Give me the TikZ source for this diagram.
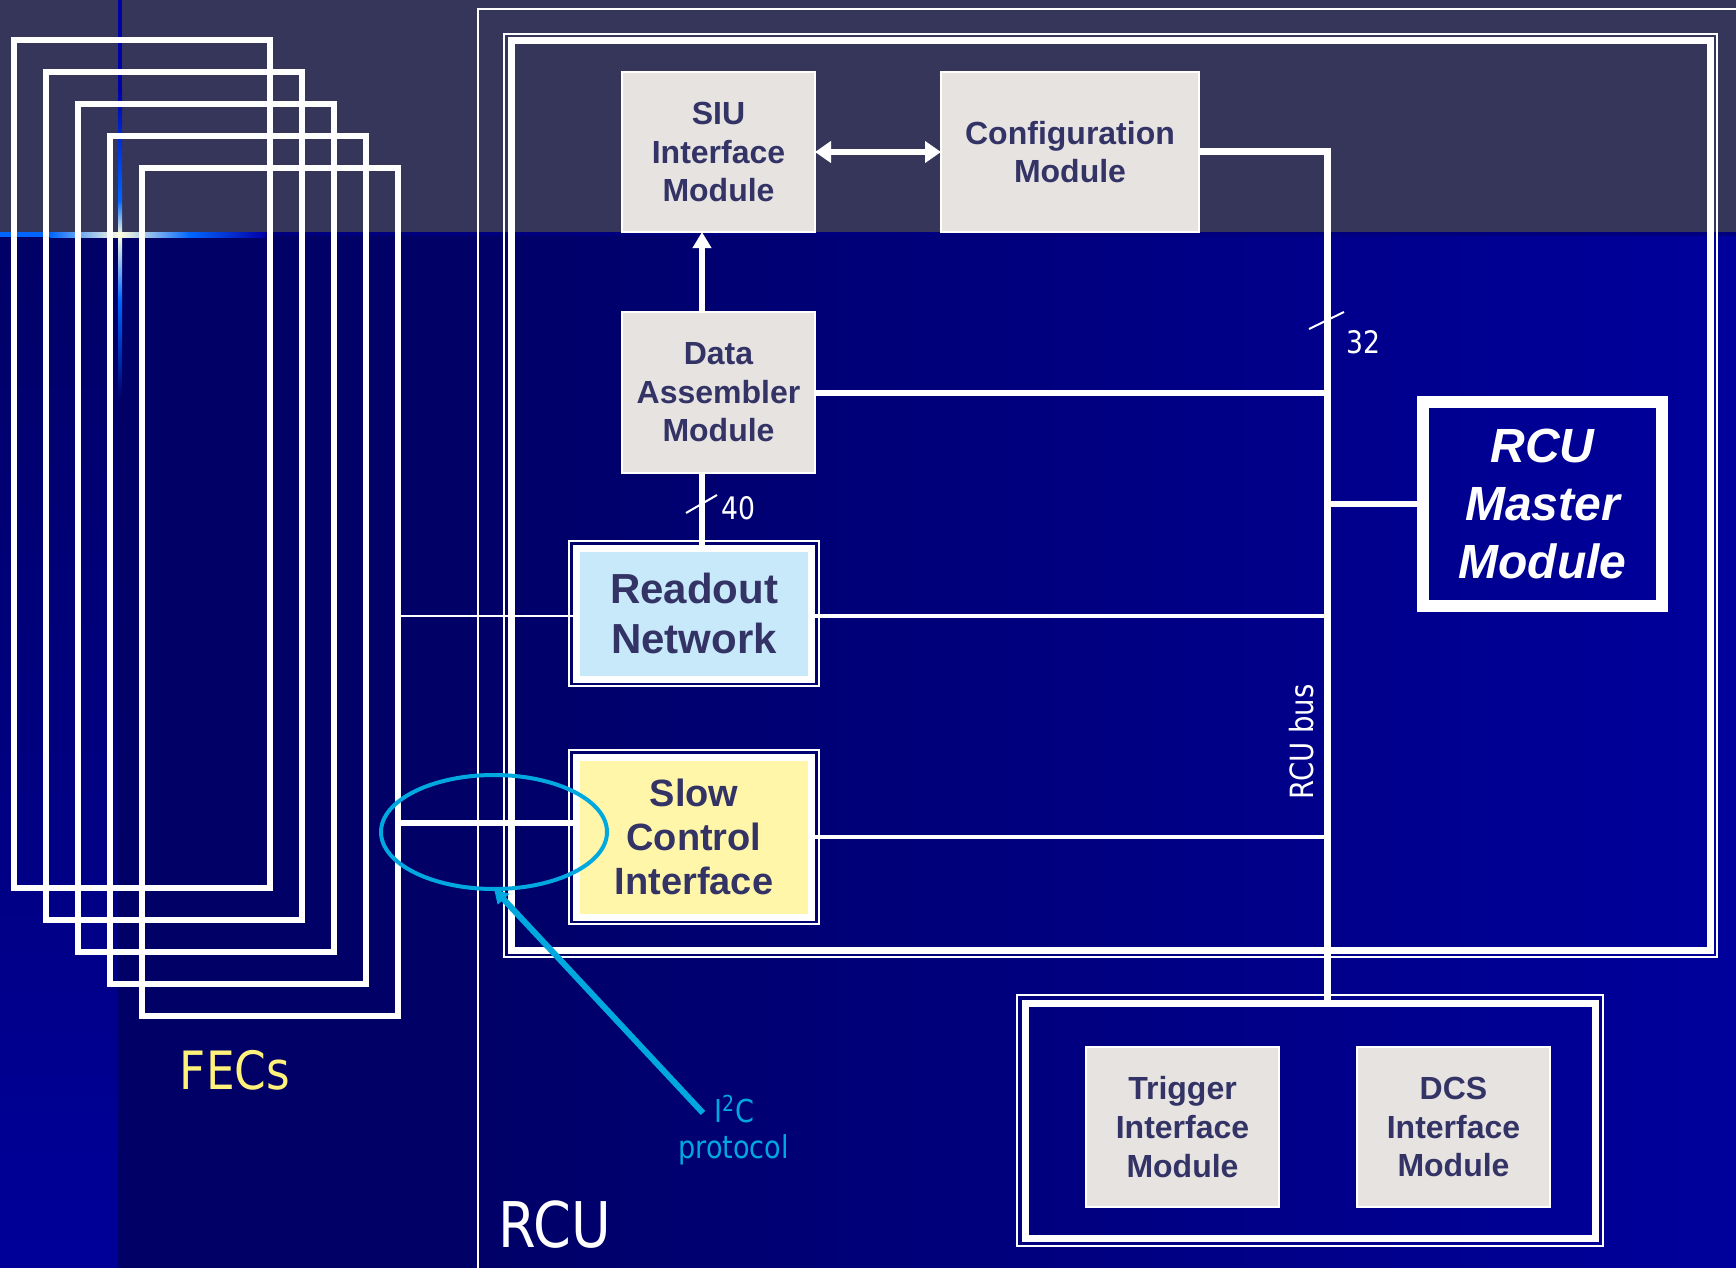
\documentclass[tikz,border=0pt]{standalone}
\usepackage{fontspec}
\setmainfont{Liberation Sans}
\newfontfamily\tahfont[FakeStretch=0.86]{DejaVu Sans}
\usetikzlibrary{arrows.meta,shapes.geometric}
\definecolor{band}{HTML}{36365A}
\definecolor{bgdark}{HTML}{000066}
\definecolor{bgbright}{HTML}{00009C}
\definecolor{bgleft}{HTML}{000099}
\definecolor{modtext}{HTML}{333366}
\definecolor{modgrey}{HTML}{E6E3E0}
\definecolor{roblue}{HTML}{C7E9FA}
\definecolor{scyellow}{HTML}{FFF6AA}
\definecolor{cyanc}{HTML}{00A8E0}
\definecolor{fecyel}{HTML}{FFF27A}
\definecolor{glowb}{HTML}{0066FF}
\definecolor{glowy}{HTML}{FFFFE0}
\definecolor{vblue}{HTML}{0000A8}
\definecolor{bandline}{HTML}{00007E}
\pgfdeclarehorizontalshading{bgsh}{100bp}{color(0bp)=(bgdark); color(25bp)=(bgdark); color(35bp)=(bgdark); color(75bp)=(bgbright); color(100bp)=(bgbright)}
\begin{document}
\begin{tikzpicture}[x=0.5pt,y=-0.5pt,
  fecrect/.style={draw=white, line width=2.75pt, minimum width=128pt, minimum height=424pt, inner sep=0pt, outer sep=0pt},
  modbox/.style={draw=white, line width=1pt, fill=modgrey, text=modtext, align=center, inner sep=0pt, outer sep=0pt, font=\bfseries\fontsize{16pt}{19.3pt}\selectfont, minimum height=80pt},
  dblbox/.style={draw=white, line width=3.5pt, text=modtext, align=center, inner sep=0pt, outer sep=0pt, minimum width=117.5pt},
  thinw/.style={draw=white, line width=1pt},
  framebox/.style={draw=white, line width=3.5pt, inner sep=0pt, outer sep=0pt},
  masterbox/.style={draw=white, line width=6pt, text=white, align=center, font=\bfseries\itshape\fontsize{24pt}{28.8pt}\selectfont, minimum width=119.5pt, minimum height=102pt, inner sep=0pt, outer sep=0pt},
  link/.style={draw=white, line width=3pt},
  linkthin/.style={draw=white, line width=2.25pt},
  busline/.style={draw=white, line width=3.5pt},
  slashline/.style={draw=white, line width=1pt},
  arrowline/.style={draw=white, line width=3pt, -{Triangle[length=8pt,width=9pt]}},
  dblarrow/.style={draw=white, line width=3pt, {Triangle[length=8pt,width=10.5pt]}-{Triangle[length=8pt,width=10.5pt]}},
  ringstyle/.style={ellipse, draw=cyanc, line width=2pt, minimum width=113pt, minimum height=57pt, inner sep=0pt, outer sep=0pt},
  pointer/.style={draw=cyanc, line width=3pt, -{Triangle[length=7pt,width=7.5pt]}},
  lbl/.style={inner sep=0pt, outer sep=0pt, text=white}
]
\useasboundingbox (0,0) rectangle (1736,1268);
% background
\fill[band] (0,0) rectangle (1736,234);
\shade[shading=bgsh] (118,234) rectangle (1736,1268);
\shade[top color=bgdark, bottom color=bgleft] (0,234) rectangle (118,1268);
% template glow lines
\fill[vblue] (118,0) rectangle (122,90);
\shade[top color=vblue, bottom color=glowb] (118,90) rectangle (122,200);
\shade[top color=glowb, bottom color=glowy] (118,200) rectangle (122,235);
\shade[top color=glowy, bottom color=glowb] (118,235) rectangle (122,300);
\shade[top color=glowb, bottom color=bgdark] (118,300) rectangle (122,400);
\fill[glowb] (0,232) rectangle (50,237);
\shade[left color=glowb, right color=glowy] (50,232) rectangle (120,237);
\shade[left color=glowy, right color=glowb] (120,232) rectangle (190,237);
\shade[left color=glowb, right color=vblue] (190,232) rectangle (265,237);
\fill[bandline] (265,232) rectangle (1736,236);

% FECs
\node[fecrect] (fec1) at (142,464) {};
\node[fecrect] (fec2) at (174,496) {};
\node[fecrect] (fec3) at (206,528) {};
\node[fecrect] (fec4) at (238,560) {};
\node[fecrect] (fec5) at (270,592) {};

% RCU outer
\draw[thinw] (478,1280) -- (478,9) -- (1750,9);

% big inner double box
\node[framebox, minimum width=599.5pt, minimum height=454.5pt] (rcuin) at (1110.5,495.5) {};
\draw[thinw] ([shift={(-7,-7)}]rcuin.north west) rectangle ([shift={(7,7)}]rcuin.south east);

% bottom container
\node[framebox, minimum width=285pt, minimum height=117.5pt] (ctrbox) at (1310,1120.5) {};
\draw[thinw] ([shift={(-8,-8)}]ctrbox.north west) rectangle ([shift={(8,8)}]ctrbox.south east);

% modules
\node[modbox, minimum width=96.5pt] (siu) at (718.5,152) {SIU\\Interface\\Module};
\node[modbox, minimum width=129pt] (config) at (1070,152) {Configuration\\Module};
\node[modbox, minimum width=96.5pt, minimum height=80.5pt] (data) at (718.5,392.5) {Data\\Assembler\\Module};
\node[modbox, minimum width=96.5pt] (trig) at (1182.5,1127) {Trigger\\Interface\\Module};
\node[modbox, minimum width=96.5pt] (dcs) at (1453.5,1127) {DCS\\Interface\\Module};

\node[dblbox, fill=roblue, minimum height=65.5pt, font=\bfseries\fontsize{21pt}{25pt}\selectfont] (readout) at (694,613.5) {Readout\\Network};
\draw[thinw] ([shift={(-7.5,-7)}]readout.north west) rectangle ([shift={(7.5,7)}]readout.south east);
\node[dblbox, fill=scyellow, minimum height=80pt, font=\bfseries\fontsize{19pt}{22pt}\selectfont] (slow) at (694,837) {Slow\\Control\\Interface};
\draw[thinw] ([shift={(-7.5,-7)}]slow.north west) rectangle ([shift={(7.5,7)}]slow.south east);

\node[masterbox] (master) at (1542.5,504) {RCU\\Master\\Module};

% helper coordinates
\coordinate (vline) at (702,0);
\coordinate (bus) at (1327,0);
\coordinate (roy) at (0,616);
\coordinate (slowin) at ([yshift=7pt]slow.west);

% connectors
\draw[arrowline] (vline |- data.north) -- (vline |- siu.south);
\draw[link] (vline |- readout.north) -- (vline |- data.south);
\draw[dblarrow] (siu.east) -- (config.west);
\draw[busline] (config.east) -- (bus |- config.east) -- (bus |- ctrbox.north);
\draw[link] (data.east) -- (data.east -| bus);
\draw[link] (bus |- master.west) -- (master.west);
\draw[linkthin] (readout.east |- roy) -- (bus |- roy);
\draw[linkthin] (slow.east) -- (slow.east -| bus);
\draw[thinw] (fec5.east |- roy) -- (readout.west |- roy);
\draw[link] (fec5.east |- slowin) -- (slowin);

% bus-width slashes
\draw[slashline] (686,513) -- (717,495);
\draw[slashline] (1309,329) -- (1344,312);

% labels
\node[lbl, font=\tahfont\fontsize{15.5pt}{18pt}\selectfont] (n32) at (1363,342) {32};
\node[lbl, font=\tahfont\fontsize{15.5pt}{18pt}\selectfont] (n40) at (738,508) {40};
\node[lbl, rotate=90, font=\tahfont\fontsize{16pt}{19pt}\selectfont] (buslbl) at (1302,742) {RCU bus};
\node[lbl, text=fecyel, font=\tahfont\fontsize{26.4pt}{30pt}\selectfont] (feclbl) at (235,1070) {FECs};
\node[lbl, font=\tahfont\fontsize{31.5pt}{36pt}\selectfont] (rculbl) at (555,1225) {RCU};

% I2C ring and pointer
\node[ringstyle] (ring) at (494,832) {};
\coordinate (ptrend) at (703,1113);
\draw[pointer] (ptrend) -- (ring.south);
\node[lbl, text=cyanc, anchor=base, font=\tahfont\fontsize{15.75pt}{18pt}\selectfont] (i2c) at (734,1122) {I\textsuperscript{2}C};
\node[lbl, text=cyanc, anchor=base, font=\tahfont\fontsize{15.75pt}{18pt}\selectfont] (proto) at (733.5,1158) {protocol};
\end{tikzpicture}
\end{document}
